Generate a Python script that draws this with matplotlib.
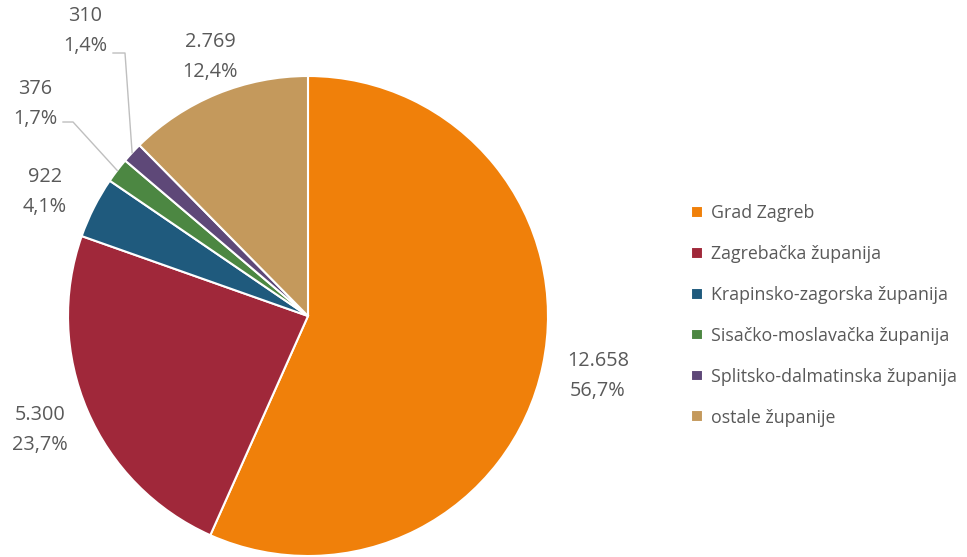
import matplotlib
matplotlib.use("Agg")
import matplotlib.pyplot as plt
import numpy as np

categories = ["Grad Zagreb", "Zagrebačka županija", "Krapinsko-zagorska županija",
              "Sisačko-moslavačka županija", "Splitsko-dalmatinska županija", "ostale županije"]
values = [12658, 5300, 922, 376, 310, 2769]
colors = ["#F0800A", "#A0283A", "#1F5A7D", "#4C8742", "#5E4878", "#C4995C"]

# label text positions (data coords of the pie axes)
label_pos = [(1.208, -0.25), (-1.117, -0.475), (-1.096, 0.517),
             (-1.1375, 0.883), (-0.929, 1.1875), (-0.408, 1.079)]

plt.rcParams['font.family'] = ['Open Sans', 'DejaVu Sans']
TXT = "#595959"

fig = plt.figure(figsize=(9.67, 5.57), dpi=100)
W, H = 967, 557
cx, cy, R = 308, 316, 240
ax = fig.add_axes([(cx - R) / W, (H - cy - R) / H, 2 * R / W, 2 * R / H])
wedges, _ = ax.pie(values, colors=colors, startangle=90, counterclock=False,
                   wedgeprops=dict(edgecolor="white", linewidth=1.5))
ax.set_xlim(-1, 1)
ax.set_ylim(-1, 1)
ax.set_aspect("equal")
ax.axis("off")

total = sum(values)
def fmt_int(v):
    return f"{v:,}".replace(",", ".")

for i, (w, v) in enumerate(zip(wedges, values)):
    pct = f"{100 * v / total:.1f}".replace(".", ",") + "%"
    x, y = label_pos[i]
    ax.text(x, y, f"{fmt_int(v)}\n{pct}", ha="center", va="center", fontsize=14.3,
            color=TXT, linespacing=1.65, clip_on=False)

# leader lines for small slices
def leader(i, hx0, hx1, hy):
    th = np.deg2rad((wedges[i].theta1 + wedges[i].theta2) / 2)
    ex, ey = np.cos(th), np.sin(th)
    ax.plot([hx0, hx1, ex], [hy, hy, ey], color="#BFBFBF", lw=1, clip_on=False)

leader(3, -1.0208, -0.979, 0.8083)
leader(4, -0.8125, -0.7625, 1.0958)

leg = fig.legend(wedges, categories, loc="upper left",
                 bbox_to_anchor=(691 / W, 1 - 204 / H), frameon=False,
                 fontsize=12.8, labelspacing=1.29, handlelength=0.65, handleheight=0.65,
                 handletextpad=0.45, borderpad=0, borderaxespad=0)
for t in leg.get_texts():
    t.set_color(TXT)

fig.savefig("out.png", dpi=100)
